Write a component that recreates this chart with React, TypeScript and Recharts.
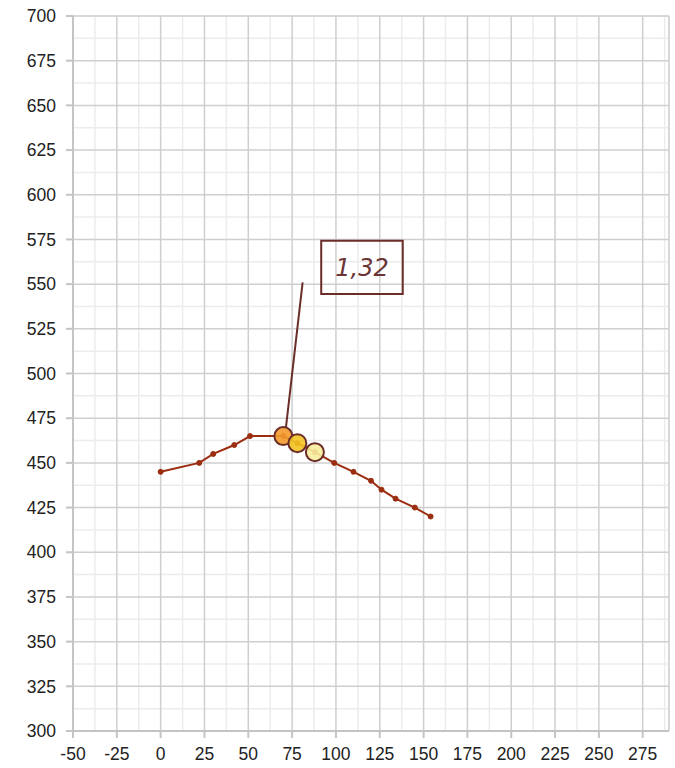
import React from 'react';
import {
  ComposedChart, Line, Scatter, XAxis, YAxis, CartesianGrid, ReferenceLine, ReferenceArea,
} from 'recharts';

const xValues = [0, 22, 30, 42, 51, 70, 78, 88, 99, 110, 120, 126, 134, 145, 154];
const yValues = [445, 450, 455, 460, 465, 465, 461, 456, 450, 445, 440, 435, 430, 425, 420];

const highlightX = [70, 78, 88];
const highlightY = [465, 461, 456];
const highlightColors = ['#f39a2c', '#f4c424', '#f8ee9e'];

const xTicks = [-50, -25, 0, 25, 50, 75, 100, 125, 150, 175, 200, 225, 250, 275];
const yTicks = [300, 325, 350, 375, 400, 425, 450, 475, 500, 525, 550, 575, 600, 625, 650, 675, 700];
const xMinorTicks = [-37.5, -12.5, 12.5, 37.5, 62.5, 87.5, 112.5, 137.5, 162.5, 187.5, 212.5, 237.5, 262.5, 287.5];
const yMinorTicks = [312.5, 337.5, 362.5, 387.5, 412.5, 437.5, 462.5, 487.5, 512.5, 537.5, 562.5, 587.5, 612.5, 637.5, 662.5, 687.5];

const annotationText = '1,32';
const annotationLine = [{ x: 71.5, y: 470 }, { x: 81, y: 551 }];
const annotationBox = { x1: 91.6, x2: 138.1, y1: 544.5, y2: 574.3 };

const lineData = xValues.map((x, i) => ({ x, y: yValues[i] }));
const highlightData = highlightX.map((x, i) => ({ x, y: highlightY[i], color: highlightColors[i] }));

const FONT = '"Liberation Sans", Arial, sans-serif';
const LINE_COLOR = '#9b2d10';
const DARK = '#6b2d28';

const CircleShape = (props: any) => {
  const { cx, cy, payload } = props;
  return <circle cx={cx} cy={cy} r={9} fill={payload.color} fillOpacity={0.9} stroke={DARK} strokeWidth={2} />;
};

export default function App() {
  return (
    <div style={{ position: 'absolute', left: 0, top: 0 }}>
      <ComposedChart width={675} height={768} margin={{ top: 16, right: 6, left: 0, bottom: 0 }}>
        <XAxis xAxisId="m" dataKey="x" type="number" domain={[-50, 290]} ticks={xMinorTicks} hide allowDataOverflow />
        <YAxis yAxisId="m" type="number" domain={[300, 700]} ticks={yMinorTicks} hide allowDataOverflow />
        <CartesianGrid xAxisId="m" yAxisId="m" stroke="#ececec" strokeWidth={1.5} />
        <CartesianGrid stroke="#cfcfcf" strokeWidth={1.5} />
        <XAxis
          dataKey="x"
          type="number"
          domain={[-50, 290]}
          ticks={xTicks}
          interval={0}
          height={37}
          allowDataOverflow
          tickSize={7}
          tickMargin={10}
          axisLine={{ stroke: '#c4c4c4', strokeWidth: 2 }}
          tickLine={{ stroke: '#c4c4c4', strokeWidth: 2 }}
          tick={{ fill: '#222', fontSize: 17.5, fontFamily: FONT }}
        />
        <YAxis
          type="number"
          domain={[300, 700]}
          ticks={yTicks}
          interval={0}
          width={73}
          allowDataOverflow
          tickSize={7}
          tickMargin={10}
          axisLine={{ stroke: '#c4c4c4', strokeWidth: 2 }}
          tickLine={{ stroke: '#c4c4c4', strokeWidth: 2 }}
          tick={{ fill: '#222', fontSize: 17.5, fontFamily: FONT }}
        />
        <ReferenceArea
          x1={annotationBox.x1}
          x2={annotationBox.x2}
          y1={annotationBox.y1}
          y2={annotationBox.y2}
          fill="none"
          fillOpacity={0}
          stroke={DARK}
          strokeWidth={2}
          label={{ value: annotationText, position: 'center', fill: '#6b3535', fontSize: 24, fontStyle: 'italic', fontFamily: '"DejaVu Sans", sans-serif' }}
        />
        <ReferenceLine segment={annotationLine} stroke={DARK} strokeWidth={2} />
        <Line
          data={lineData}
          dataKey="y"
          type="linear"
          stroke={LINE_COLOR}
          strokeWidth={2}
          dot={{ r: 2.5, fill: LINE_COLOR, stroke: LINE_COLOR, strokeWidth: 1 }}
          isAnimationActive={false}
        />
        <Scatter data={highlightData} dataKey="y" shape={CircleShape} isAnimationActive={false} />
      </ComposedChart>
    </div>
  );
}
